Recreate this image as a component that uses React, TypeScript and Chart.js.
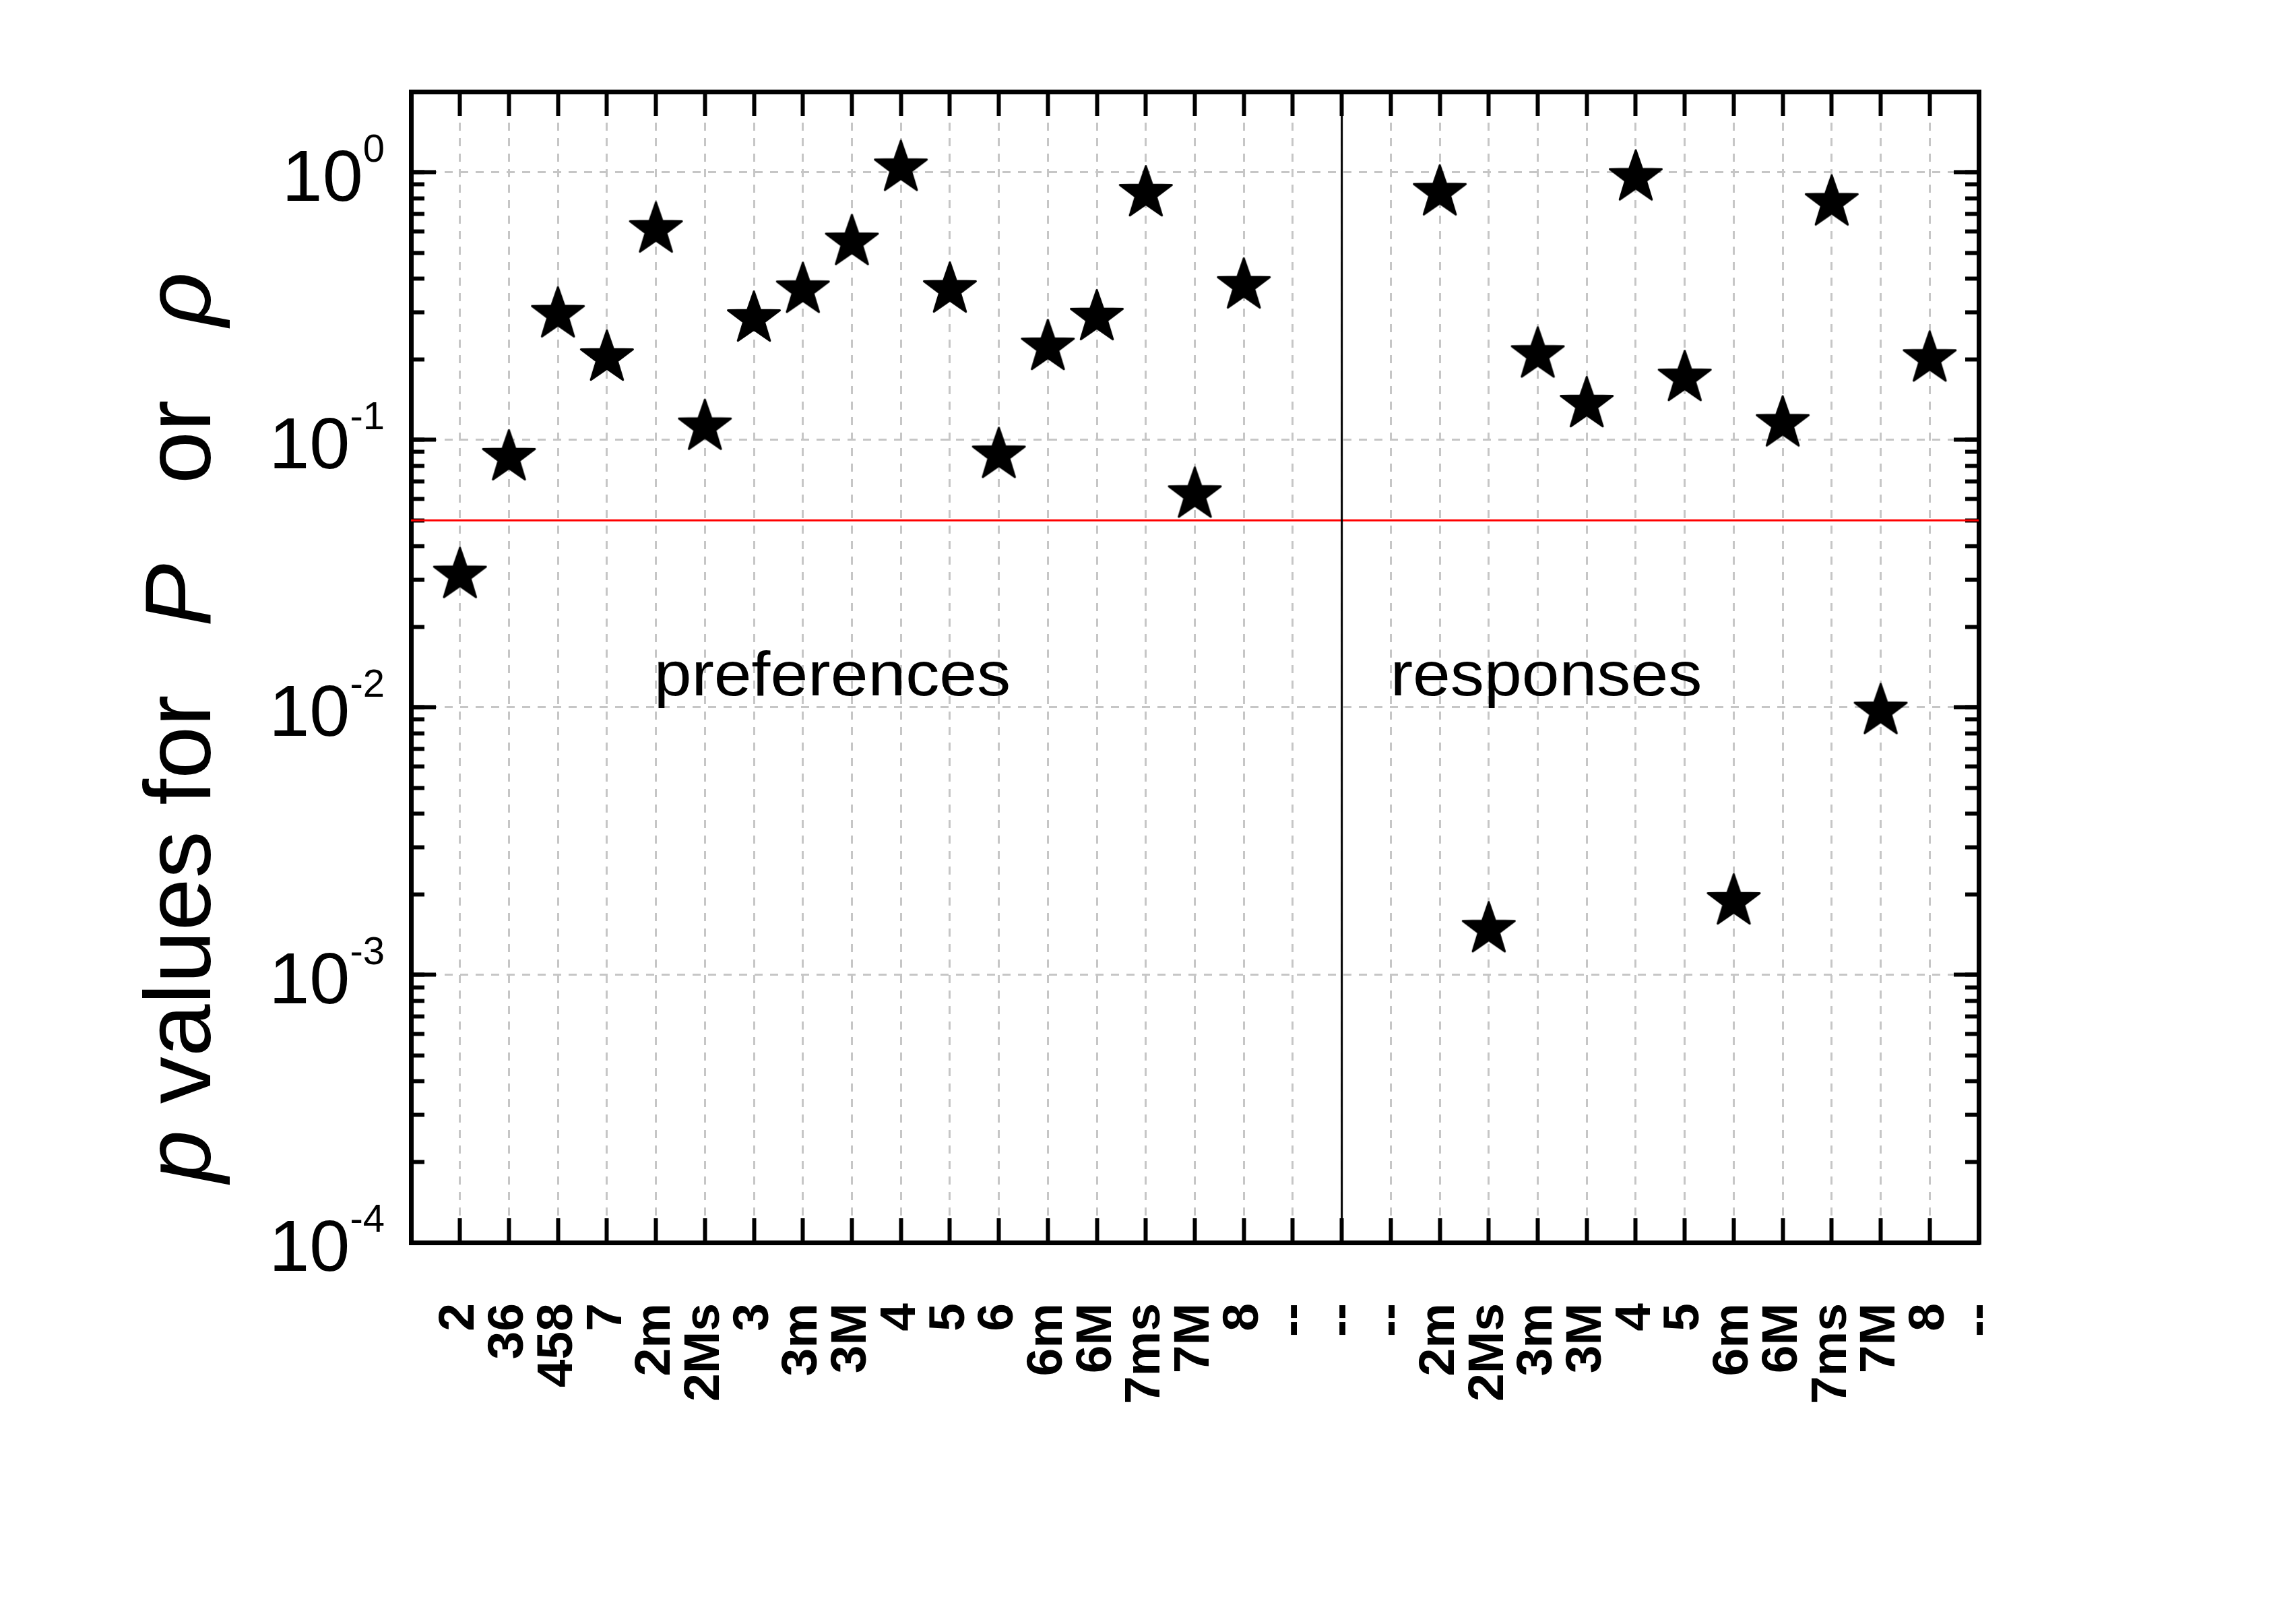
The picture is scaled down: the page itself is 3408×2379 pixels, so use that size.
import React, { useEffect, useRef } from 'react';
import { Chart, registerables } from 'chart.js';

Chart.register(...registerables);

const W = 3408;
const H = 2379;
const FONT = '"Liberation Sans", Arial, Helvetica, sans-serif';

// ---------------- data ----------------
// tick labels for the category positions 0..31
const xLabels = [
  '2', '36', '458', '7', '2m', '2Ms', '3', '3m', '3M', '4', '5', '6', '6m', '6M', '7ms', '7M', '8',
  '--', '--', '--',
  '2m', '2Ms', '3m', '3M', '4', '5', '6m', '6M', '7ms', '7M', '8', '--',
];
const prefStart = 0;
const prefValues = [
  0.0312, 0.0859, 0.294, 0.2025, 0.61, 0.1117, 0.2835, 0.363, 0.548, 1.037, 0.364, 0.0877, 0.222,
  0.287, 0.833, 0.0623, 0.377,
];
const respStart = 20;
const respValues = [0.84, 0.00148, 0.208, 0.1357, 0.955, 0.17, 0.00188, 0.115, 0.77, 0.00968, 0.201];
const thresholdP = 0.05;
const dividerAt = 18;
const xRange = [-1, 31];
const yRange = [1e-4, 2];
const yDecades = [-4, -3, -2, -1, 0];
const yMinorSteps = [1, 2, 3, 4, 5, 6, 7, 8, 9];
const groupNames = ['preferences', 'responses'];
const groupNameX = [3.96, 18.99];
const groupNameY = [0.0111, 0.0111];
const titleParts = ['p', ' values for', 'P', 'or', '\u03C1'];

// ---------------- layout / style ----------------
const LAYOUT = { left: 610, right: 471, top: 136, bottom: 535 };
const GRID_GRAY = '#c6c6c6';
const GRID_DASH = [12, 11];
const TRANSPARENT = 'rgba(0,0,0,0)';
const FRAME_W = 7;
const TICK_W = 6;
const Y_LABEL = { rightGap: 39, baseSize: 108, supSize: 58, baseDy: 42, supDy: -16 };
const GROUP_LAYOUT = { size: 92, stretch: 1.09 };
const TITLE_LAYOUT = {
  baseX: 312,
  size: 140,
  parts: [
    { start: 1755, italic: true },
    { start: null, italic: false },
    { start: 930, italic: true },
    { start: 718, italic: false },
    { start: 484, italic: true },
  ],
};

const yAllTicks = yDecades
  .flatMap((d) => yMinorSteps.map((m) => m * Math.pow(10, d)))
  .filter((v) => v <= 1.0000001);
const yMajorTicks = yDecades.map((d) => Math.pow(10, d));
const isMajor = (v: number) => yMajorTicks.some((m) => Math.abs(v / m - 1) < 1e-9);

function makeStar(): HTMLCanvasElement {
  const c = document.createElement('canvas');
  c.width = 96;
  c.height = 96;
  const g = c.getContext('2d')!;
  const cx = 48;
  const cy = 48;
  const R = 40.5;
  const r = R * 0.4;
  g.beginPath();
  for (let i = 0; i < 10; i++) {
    const ang = -Math.PI / 2 + (i * Math.PI) / 5;
    const rad = i % 2 === 0 ? R : r;
    const px = cx + rad * Math.cos(ang);
    const py = cy + rad * Math.sin(ang);
    if (i === 0) g.moveTo(px, py);
    else g.lineTo(px, py);
  }
  g.closePath();
  g.fillStyle = '#000';
  g.fill();
  g.lineWidth = 3;
  g.lineJoin = 'round';
  g.strokeStyle = '#000';
  g.stroke();
  return c;
}

const xEdge = (c: any) => c.tick && (c.tick.value <= xRange[0] + 1e-9 || c.tick.value >= xRange[1] - 1e-9);

const annotPlugin = {
  id: 'annotations',
  afterDraw(chart: any) {
    const { ctx, chartArea } = chart;
    const ys = chart.scales.y;
    const xs = chart.scales.x;
    ctx.save();
    ctx.fillStyle = '#000';
    ctx.textBaseline = 'alphabetic';

    // y tick labels 10^k
    for (const e of yDecades) {
      const py = ys.getPixelForValue(Math.pow(10, e));
      const xr = chartArea.left - Y_LABEL.rightGap;
      const sup = String(e);
      ctx.textAlign = 'right';
      ctx.font = `${Y_LABEL.supSize}px ${FONT}`;
      ctx.fillText(sup, xr, py + Y_LABEL.supDy);
      const w = ctx.measureText(sup).width;
      ctx.font = `${Y_LABEL.baseSize}px ${FONT}`;
      ctx.fillText('10', xr - w, py + Y_LABEL.baseDy);
    }

    // group names
    ctx.textAlign = 'left';
    ctx.font = `${GROUP_LAYOUT.size}px ${FONT}`;
    groupNames.forEach((t, i) => {
      const px = xs.getPixelForValue(groupNameX[i]);
      const py = ys.getPixelForValue(groupNameY[i]);
      ctx.save();
      ctx.translate(px, py);
      ctx.scale(GROUP_LAYOUT.stretch, 1);
      ctx.fillText(t, 0, 0);
      ctx.restore();
    });

    // y axis title (rotated)
    const T = TITLE_LAYOUT;
    let cursor = 0;
    titleParts.forEach((t, i) => {
      const p = T.parts[i];
      ctx.font = `${p.italic ? 'italic ' : ''}${T.size}px ${FONT}`;
      const start = p.start == null ? cursor : p.start;
      ctx.save();
      ctx.translate(T.baseX, start);
      ctx.rotate(-Math.PI / 2);
      ctx.textAlign = 'left';
      ctx.fillText(t, 0, 0);
      ctx.restore();
      cursor = start - ctx.measureText(t).width;
    });
    ctx.restore();
  },
};

function buildConfig(star: HTMLCanvasElement): any {
  const logAxis = (position: string, weight: number, width: number, majorsOnly: boolean, extra: any) => ({
    type: 'logarithmic',
    axis: 'y',
    position,
    weight,
    min: yRange[0],
    max: yRange[1],
    afterBuildTicks: (s: any) => {
      const vals = majorsOnly ? yMajorTicks : yAllTicks;
      s.ticks = vals.map((v) => ({ value: v, major: isMajor(v) }));
    },
    afterFit: (s: any) => {
      s.width = width;
      s.paddingTop = 0;
      s.paddingBottom = 0;
    },
    ticks: { display: false },
    ...extra,
  });

  return {
    type: 'scatter',
    data: {
      datasets: [
        {
          label: 'preferences',
          data: prefValues.map((v, i) => ({ x: prefStart + i, y: v })),
          pointStyle: star,
          pointRadius: 42,
          pointHoverRadius: 42,
          showLine: false,
          order: 0,
        },
        {
          label: 'responses',
          data: respValues.map((v, i) => ({ x: respStart + i, y: v })),
          pointStyle: star,
          pointRadius: 42,
          pointHoverRadius: 42,
          showLine: false,
          order: 0,
        },
        {
          label: 'p = 0.05',
          data: [
            { x: xRange[0], y: thresholdP },
            { x: xRange[1], y: thresholdP },
          ],
          showLine: true,
          borderColor: '#ff0000',
          borderWidth: 3,
          pointRadius: 0,
          order: 2,
        },
        {
          label: 'divider',
          data: [
            { x: dividerAt, y: yRange[0] },
            { x: dividerAt, y: yRange[1] },
          ],
          showLine: true,
          borderColor: '#000',
          borderWidth: 3,
          pointRadius: 0,
          order: 1,
        },
      ],
    },
    options: {
      responsive: false,
      maintainAspectRatio: false,
      devicePixelRatio: 1,
      animation: false,
      events: [],
      layout: { padding: 0 },
      plugins: { legend: { display: false }, tooltip: { enabled: false } },
      scales: {
        x: {
          type: 'linear',
          position: 'bottom',
          min: xRange[0],
          max: xRange[1],
          afterFit: (s: any) => {
            s.height = LAYOUT.bottom;
            s.paddingLeft = 0;
            s.paddingRight = 0;
          },
          ticks: {
            stepSize: 1,
            autoSkip: false,
            minRotation: 90,
            maxRotation: 90,
            padding: 126,
            color: '#000',
            font: { family: FONT, size: 75, weight: 'bold' },
            callback: (v: number) => {
              const i = Math.round(v);
              return i >= 0 && i < xLabels.length ? xLabels[i] : '';
            },
          },
          grid: {
            display: true,
            drawOnChartArea: true,
            drawTicks: true,
            color: (c: any) => (xEdge(c) ? TRANSPARENT : GRID_GRAY),
            lineWidth: 3,
            tickLength: -36,
            tickWidth: TICK_W,
            tickColor: (c: any) => (xEdge(c) ? TRANSPARENT : '#000'),
            tickBorderDash: [],
          },
          border: {
            display: true,
            color: '#000',
            width: FRAME_W,
            dash: (c: any) => (c.type === 'tick' ? GRID_DASH : []),
          },
        },
        x2: {
          type: 'linear',
          axis: 'x',
          position: 'top',
          min: xRange[0],
          max: xRange[1],
          afterFit: (s: any) => {
            s.height = LAYOUT.top;
            s.paddingLeft = 0;
            s.paddingRight = 0;
          },
          ticks: { display: false, stepSize: 1, autoSkip: false },
          grid: {
            display: true,
            drawOnChartArea: false,
            drawTicks: true,
            color: TRANSPARENT,
            tickLength: -36,
            tickWidth: TICK_W,
            tickColor: (c: any) => (xEdge(c) ? TRANSPARENT : '#000'),
            tickBorderDash: [],
          },
          border: { display: true, color: '#000', width: FRAME_W, dash: [] },
        },
        y: logAxis('left', 1, LAYOUT.left, false, {
          grid: {
            display: true,
            drawOnChartArea: true,
            drawTicks: true,
            color: (c: any) => (c.tick && isMajor(c.tick.value) ? GRID_GRAY : TRANSPARENT),
            lineWidth: 3,
            tickLength: -20,
            tickWidth: TICK_W,
            tickColor: '#000',
            tickBorderDash: [],
          },
          border: {
            display: true,
            color: '#000',
            width: FRAME_W,
            dash: (c: any) => (c.type === 'tick' ? GRID_DASH : []),
          },
        }),
        yMajL: logAxis('left', 0, 0, true, {
          grid: {
            display: true,
            drawOnChartArea: false,
            drawTicks: true,
            color: TRANSPARENT,
            tickLength: -37,
            tickWidth: TICK_W,
            tickColor: '#000',
            tickBorderDash: [],
          },
          border: { display: false },
        }),
        yR: logAxis('right', 1, LAYOUT.right, false, {
          grid: {
            display: true,
            drawOnChartArea: false,
            drawTicks: true,
            color: TRANSPARENT,
            tickLength: -20,
            tickWidth: TICK_W,
            tickColor: '#000',
            tickBorderDash: [],
          },
          border: { display: true, color: '#000', width: FRAME_W, dash: [] },
        }),
        yRMaj: logAxis('right', 0, 0, true, {
          grid: {
            display: true,
            drawOnChartArea: false,
            drawTicks: true,
            color: TRANSPARENT,
            tickLength: -37,
            tickWidth: TICK_W,
            tickColor: '#000',
            tickBorderDash: [],
          },
          border: { display: false },
        }),
      },
    },
    plugins: [annotPlugin],
  };
}

export default function App() {
  const ref = useRef<HTMLCanvasElement>(null);
  useEffect(() => {
    const canvas = ref.current;
    if (!canvas) return;
    const chart = new Chart(canvas, buildConfig(makeStar()));
    return () => chart.destroy();
  }, []);
  return (
    <canvas
      ref={ref}
      width={W}
      height={H}
      style={{ position: 'absolute', left: 0, top: 0, width: W, height: H, display: 'block', background: '#fff' }}
    />
  );
}
